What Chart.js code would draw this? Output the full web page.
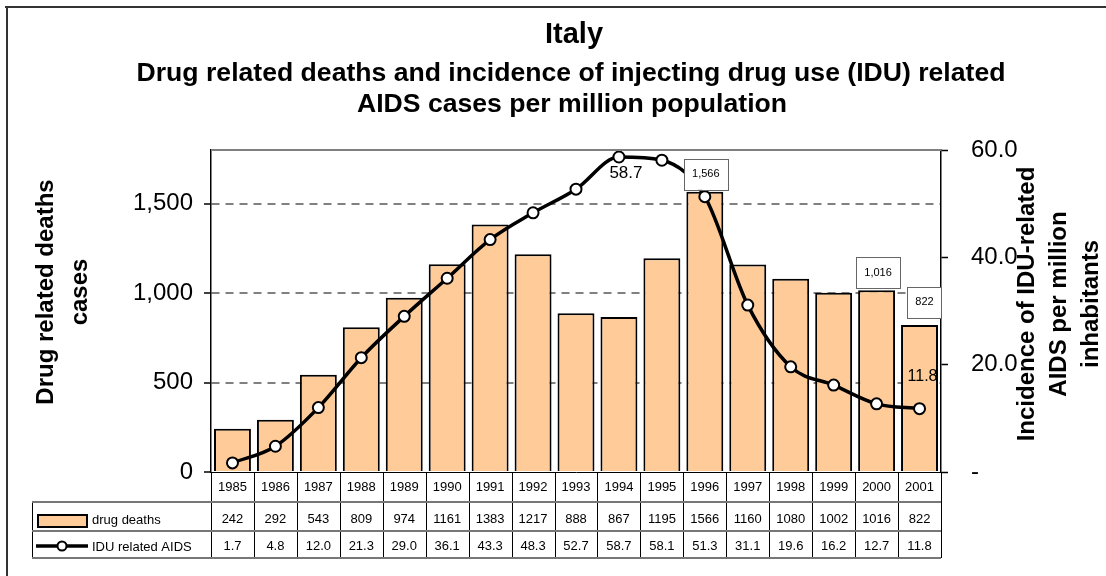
<!DOCTYPE html>
<html><head><meta charset="utf-8">
<script src="https://cdn.jsdelivr.net/npm/chart.js@4.4.0/dist/chart.umd.min.js"></script>
<style>html,body{margin:0;padding:0;background:#fff;}canvas{display:block;}</style>
</head><body>
<canvas id="c" width="1106" height="576"></canvas>
<script>
const years = ['1985','1986','1987','1988','1989','1990','1991','1992','1993','1994','1995','1996','1997','1998','1999','2000','2001'];
const drugDeaths = [242,292,543,809,974,1161,1383,1217,888,867,1195,1566,1160,1080,1002,1016,822];
const aidsIncidence = [1.7,4.8,12.0,21.3,29.0,36.1,43.3,48.3,52.7,58.7,58.1,51.3,31.1,19.6,16.2,12.7,11.8];
const leftTicks = [0,500,1000,1500];
const rightTicks = [0,20,40,60];
const titleLines = ['Italy','Drug related deaths and incidence of injecting drug use (IDU) related','AIDS cases per million population'];
const leftAxisTitle = ['Drug related deaths','cases'];
const rightAxisTitle = ['Incidence of IDU-related','AIDS per million','inhabitants'];
const seriesNames = ['drug deaths','IDU related AIDS'];
const boxedBarLabels = [11,15,16];
const lineLabels = [9,16];

const FONT = '"Liberation Sans", Arial, sans-serif';
const BAR_FILL = '#FFCC99';

const fmtInt = v => v.toLocaleString('en-US');

const decor = {
  id: 'decor',
  afterDraw(chart) {
    const ctx = chart.ctx;
    const x = chart.scales.x, y = chart.scales.y, y1 = chart.scales.y1;
    const ca = chart.chartArea;
    ctx.save();
    // outer frame
    ctx.strokeStyle = '#333'; ctx.lineWidth = 2;
    ctx.beginPath(); ctx.moveTo(5, 7); ctx.lineTo(1106, 7); ctx.moveTo(7, 6); ctx.lineTo(7, 576); ctx.stroke();
    // top plot border
    ctx.strokeStyle = '#808080'; ctx.lineWidth = 2;
    ctx.beginPath(); ctx.moveTo(ca.left, ca.top); ctx.lineTo(ca.right, ca.top); ctx.stroke();

    // titles
    ctx.fillStyle = '#000'; ctx.textAlign = 'center'; ctx.textBaseline = 'alphabetic';
    ctx.font = 'bold 29px ' + FONT; ctx.fillText(titleLines[0], 574, 43);
    ctx.font = 'bold 26.6px ' + FONT; ctx.fillText(titleLines[1], 571, 81); ctx.fillText(titleLines[2], 572, 112);

    // axis titles
    ctx.font = 'bold 24px ' + FONT; ctx.textBaseline = 'middle';
    const drawRot = (lines, xs, cy) => {
      lines.forEach((t, i) => {
        ctx.save(); ctx.translate(xs[i], cy); ctx.rotate(-Math.PI/2); ctx.fillText(t, 0, 0); ctx.restore();
      });
    };
    drawRot(leftAxisTitle, [46, 80], 292);
    drawRot(rightAxisTitle, [1027, 1059, 1091], 304);

    // boxed bar labels
    ctx.font = '11px ' + FONT;
    boxedBarLabels.forEach((i, k) => {
      const cx = x.getPixelForValue(i) + [1, 1.5, 5][k];
      const top = y.getPixelForValue(drugDeaths[i]);
      const t = fmtInt(drugDeaths[i]);
      const w = ctx.measureText(t).width + 16, h = 31;
      const bottom = top - [2, 2, 7][k];
      ctx.fillStyle = '#fff'; ctx.fillRect(cx - w/2, bottom - h, w, h);
      ctx.strokeStyle = '#666'; ctx.lineWidth = 1;
      ctx.strokeRect(Math.round(cx - w/2) + 0.5, Math.round(bottom - h) + 0.5, Math.round(w), h);
      ctx.fillStyle = '#000'; ctx.textAlign = 'center'; ctx.textBaseline = 'middle';
      ctx.fillText(t, cx, bottom - h/2);
    });
    // line labels
    lineLabels.forEach((i, k) => {
      ctx.font = [17, 16][k] + 'px ' + FONT;
      const px = x.getPixelForValue(i), py = y1.getPixelForValue(aidsIncidence[i]);
      const dx = [7, 3][k], dy = [16, -32][k];
      ctx.fillText(aidsIncidence[i].toFixed(1), px + dx, py + dy);
    });

    // data table
    const n = years.length, colW = x.width / n;
    const rowTop = 502, row2 = 531, rowBot = 558, tblLeft = 32;
    ctx.strokeStyle = '#000'; ctx.lineWidth = 1;
    ctx.beginPath();
    for (let i = 0; i <= n; i++) {
      const xx = Math.round(x.left + i * colW) + 0.5;
      ctx.moveTo(xx, ca.bottom); ctx.lineTo(xx, rowBot);
    }
    ctx.moveTo(tblLeft + 0.5, rowTop); ctx.lineTo(tblLeft + 0.5, rowBot);
    ctx.stroke();
    ctx.strokeStyle = '#777'; ctx.lineWidth = 2;
    ctx.beginPath();
    [rowTop, row2, rowBot].forEach(yy => { ctx.moveTo(tblLeft, yy); ctx.lineTo(x.right, yy); });
    ctx.stroke();

    ctx.fillStyle = '#000'; ctx.font = '13px ' + FONT; ctx.textAlign = 'center'; ctx.textBaseline = 'middle';
    for (let i = 0; i < n; i++) {
      const cx = x.getPixelForValue(i);
      ctx.fillText(years[i], cx, 487);
      ctx.fillText(String(drugDeaths[i]), cx, 519);
      ctx.fillText(aidsIncidence[i].toFixed(1), cx, 546);
    }
    // legend keys
    ctx.fillStyle = BAR_FILL; ctx.fillRect(38, 515, 49, 12);
    ctx.strokeStyle = '#000'; ctx.lineWidth = 2; ctx.strokeRect(38, 515, 49, 12);
    ctx.lineWidth = 3.5; ctx.beginPath(); ctx.moveTo(36, 546); ctx.lineTo(88, 546); ctx.stroke();
    ctx.beginPath(); ctx.arc(62, 546, 4.5, 0, Math.PI*2); ctx.fillStyle = '#fff'; ctx.fill();
    ctx.lineWidth = 2; ctx.stroke();
    ctx.fillStyle = '#000'; ctx.textAlign = 'left';
    ctx.fillText(seriesNames[0], 92, 520);
    ctx.fillText(seriesNames[1], 92, 547);
    ctx.restore();
  }
};

new Chart(document.getElementById('c'), {
  type: 'bar',
  data: {
    labels: years,
    datasets: [
      { type: 'line', label: seriesNames[1], data: aidsIncidence, yAxisID: 'y1', order: 1,
        borderColor: '#000', borderWidth: 3.5, cubicInterpolationMode: 'monotone', pointRadius: 5.5,
        pointBackgroundColor: '#fff', pointBorderColor: '#000', pointBorderWidth: 2, fill: false },
      { type: 'bar', label: seriesNames[0], data: drugDeaths, yAxisID: 'y', order: 2,
        backgroundColor: BAR_FILL, borderColor: '#000', borderWidth: 2,
        barPercentage: 0.86, categoryPercentage: 1 }
    ]
  },
  options: {
    responsive: false, animation: false, devicePixelRatio: 1,
    layout: { padding: { top: 150, left: 0, right: 0, bottom: 0 } },
    plugins: { legend: { display: false }, title: { display: false }, tooltip: { enabled: false } },
    scales: {
      x: {
        offset: true,
        grid: { display: false },
        border: { display: true, color: '#000', width: 1 },
        ticks: { display: false },
        afterFit(s) { s.height = 104; }
      },
      y: {
        position: 'left', min: 0, max: 1800,
        afterBuildTicks(s) { s.ticks = leftTicks.map(v => ({ value: v })); },
        ticks: { color: '#000', font: { family: FONT, size: 24 }, padding: 11, callback: v => fmtInt(v) },
        grid: { color: c => c.tick && c.tick.value === 0 ? 'rgba(0,0,0,0)' : '#808080', lineWidth: 2,
                tickColor: '#000', tickLength: 7, tickWidth: 1.5 },
        border: { display: true, color: '#000', width: 1.5, dash: [8, 6] },
        afterFit(s) { s.width = 211; }
      },
      y1: {
        position: 'right', min: 0, max: 60,
        afterBuildTicks(s) { s.ticks = rightTicks.map(v => ({ value: v })); },
        ticks: { color: '#000', font: { family: FONT, size: 24 }, padding: 23,
                 callback: v => v === 0 ? '-' : v.toFixed(1) },
        grid: { drawOnChartArea: false, tickColor: '#000', tickLength: 7, tickWidth: 1.5 },
        border: { display: true, color: '#000', width: 1.5 },
        afterFit(s) { s.width = 165; }
      }
    }
  },
  plugins: [decor]
});
</script>
</body></html>
